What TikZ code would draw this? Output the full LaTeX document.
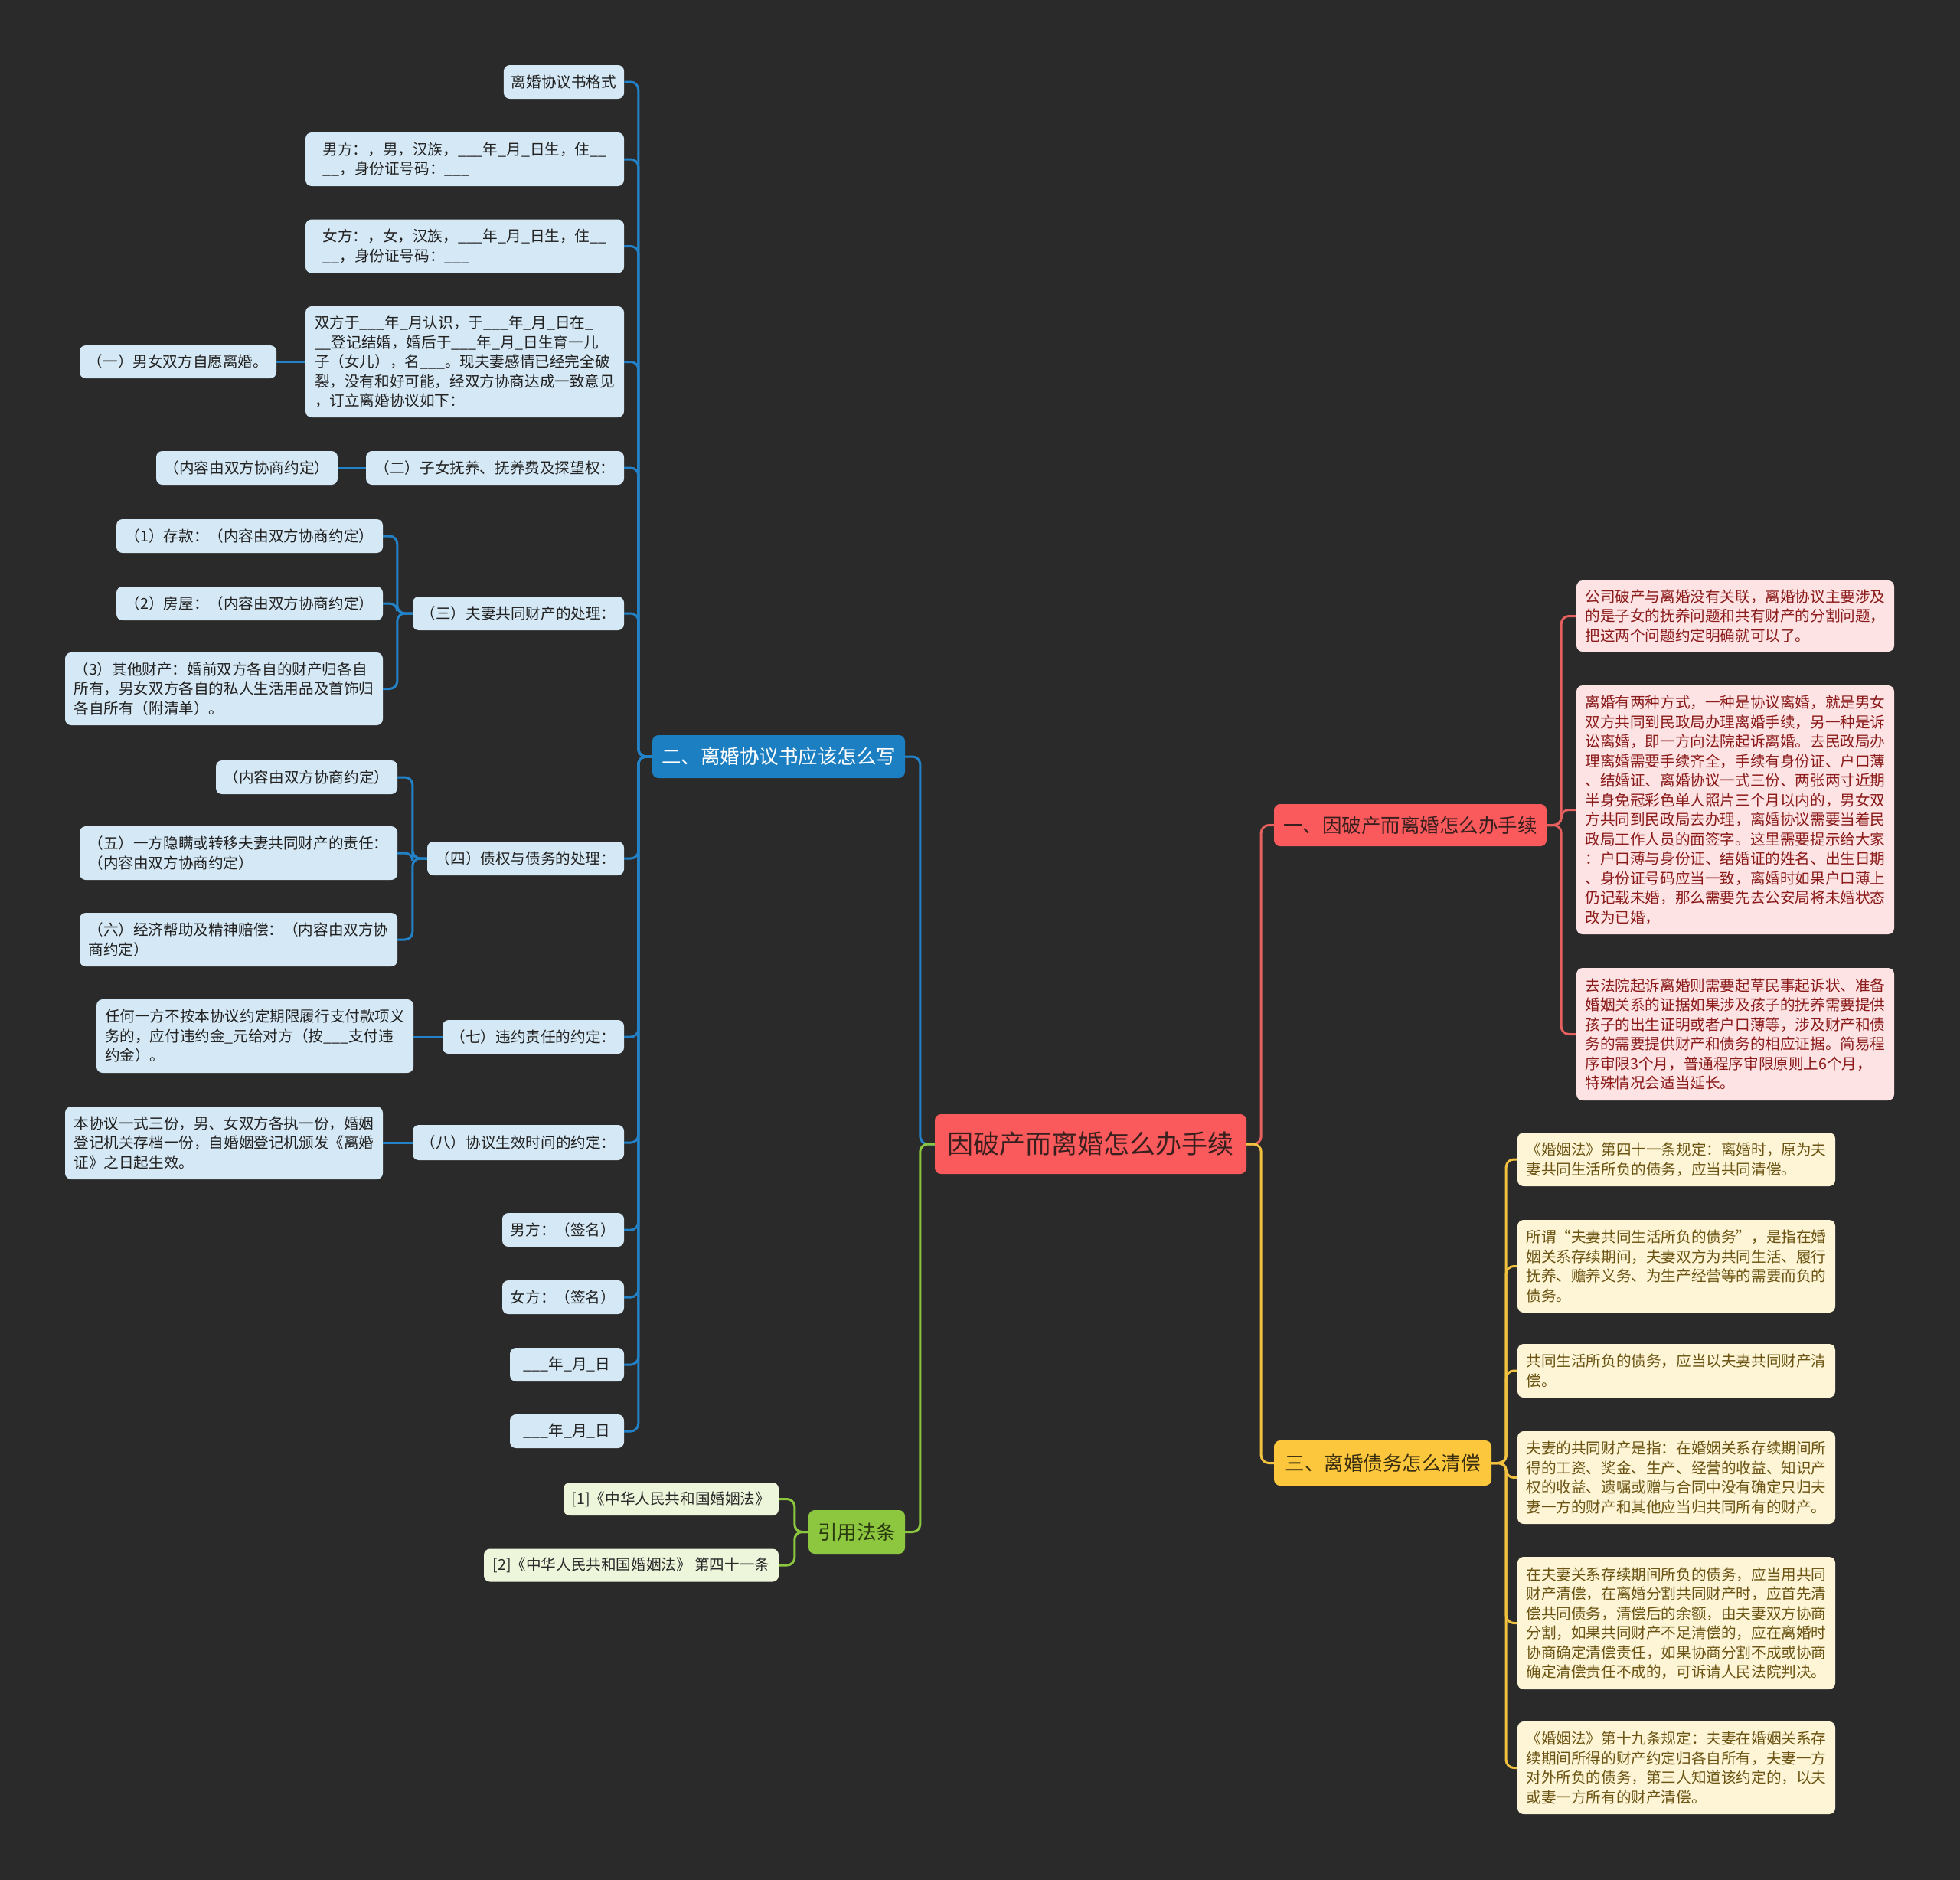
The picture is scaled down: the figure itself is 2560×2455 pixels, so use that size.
\documentclass[tikz,border=0pt]{standalone}
\usepackage{fontspec}
\setmainfont{Noto Sans CJK SC}
\definecolor{bg}{HTML}{2A2A2A}
\definecolor{blinec}{HTML}{2382C7}
\definecolor{bfillc}{HTML}{1C7FC2}
\definecolor{bleafc}{HTML}{D5E8F5}
\definecolor{bleaft}{HTML}{222222}
\definecolor{rfillc}{HTML}{FB5A5C}
\definecolor{rlinec}{HTML}{E5605F}
\definecolor{rtext}{HTML}{3A1F1F}
\definecolor{pleafc}{HTML}{FDE3E3}
\definecolor{pleaft}{HTML}{8B1A1A}
\definecolor{yfillc}{HTML}{FCC73C}
\definecolor{ylinec}{HTML}{F2C13F}
\definecolor{ytext}{HTML}{3A2E10}
\definecolor{yleafc}{HTML}{FDF5D5}
\definecolor{yleaft}{HTML}{6B5413}
\definecolor{gfillc}{HTML}{8DC63F}
\definecolor{glinec}{HTML}{8CC63F}
\definecolor{gtext}{HTML}{2A3A10}
\definecolor{gleafc}{HTML}{EDF5DB}
\definecolor{gleaft}{HTML}{2A2A2A}
\tikzset{
  sz/.style 2 args={minimum width=#1, minimum height=#2},
  base/.style={rounded corners=8, inner xsep=10, inner ysep=0, align=left,
    font=\fontsize{19.6}{25.5}\selectfont},
  bleaf/.style={base, fill=bleafc, text=bleaft},
  pleaf/.style={base, fill=pleafc, text=pleaft},
  yleaf/.style={base, fill=yleafc, text=yleaft},
  gleaf/.style={base, fill=gleafc, text=gleaft},
  branch/.style={rounded corners=8, inner xsep=8, inner ysep=0, align=center,
    font=\fontsize{25.5}{30}\selectfont},
  bline/.style={draw=blinec, line width=3, rounded corners=10},
  rline/.style={draw=rlinec, line width=3, rounded corners=10},
  yline/.style={draw=ylinec, line width=3, rounded corners=10},
  gline/.style={draw=glinec, line width=3, rounded corners=10},
}
\begin{document}
\begin{tikzpicture}[x=1pt,y=-1pt]
\fill[bg] (0,0) rectangle (2560,2455);
\useasboundingbox (0,0) rectangle (2560,2455);

% ---------- center ----------
\node[rounded corners=8, inner sep=0, fill=rfillc, text=rtext, sz={407}{78},
  font=\fontsize{34}{40}\selectfont] (c) at (1424.5,1494) {因破产而离婚怎么办手续};

% ---------- main branches ----------
\node[branch, fill=bfillc, text=white, sz={330}{56}] (b2) at (1017,988) {二、离婚协议书应该怎么写};
\node[branch, fill=gfillc, text=gtext, sz={126}{57}] (cite) at (1119,2000.5) {引用法条};
\node[branch, fill=rfillc, text=rtext, sz={356}{55}] (r1) at (1842,1077.5) {一、因破产而离婚怎么办手续};
\node[branch, fill=yfillc, text=ytext, sz={284}{59}] (y3) at (1806,1910.5) {三、离婚债务怎么清偿};

% ---------- blue leaves ----------
\node[bleaf, sz={157}{44}] (n1) at (736.5,107) {离婚协议书格式};
\node[bleaf, sz={416}{70}] (n2) at (607,208) {男方：，男，汉族，\_\_\_年\_月\_日生，住\_\_\\\_\_，身份证号码：\_\_\_};
\node[bleaf, sz={416}{70}] (n3) at (607,321.5) {女方：，女，汉族，\_\_\_年\_月\_日生，住\_\_\\\_\_，身份证号码：\_\_\_};
\node[bleaf, sz={416}{145}] (n4) at (607,472.5) {双方于\_\_\_年\_月认识，于\_\_\_年\_月\_日在\_\\\_\_登记结婚，婚后于\_\_\_年\_月\_日生育一儿\\子（女儿），名\_\_\_。现夫妻感情已经完全破\\裂，没有和好可能，经双方协商达成一致意见\\，订立离婚协议如下：};
\node[bleaf, sz={257}{43}] (n5) at (232.5,472.5) {（一）男女双方自愿离婚。};
\node[bleaf, sz={337}{44}] (s2) at (646.5,611) {（二）子女抚养、抚养费及探望权：};
\node[bleaf, sz={237}{44}] (s2a) at (322.5,611) {（内容由双方协商约定）};
\node[bleaf, sz={276}{44}] (s3) at (677,801) {（三）夫妻共同财产的处理：};
\node[bleaf, sz={348}{44}] (s3a) at (326,700) {（1）存款：（内容由双方协商约定）};
\node[bleaf, sz={348}{44}] (s3b) at (326,788) {（2）房屋：（内容由双方协商约定）};
\node[bleaf, sz={415}{95}] (s3c) at (292.5,899.5) {（3）其他财产：婚前双方各自的财产归各自\\所有，男女双方各自的私人生活用品及首饰归\\各自所有（附清单）。};
\node[bleaf, sz={257}{44}] (s4) at (686.5,1121) {（四）债权与债务的处理：};
\node[bleaf, sz={237}{44}] (s4a) at (400.5,1015) {（内容由双方协商约定）};
\node[bleaf, sz={415}{70}] (s4b) at (311.5,1114) {（五）一方隐瞒或转移夫妻共同财产的责任：\\（内容由双方协商约定）};
\node[bleaf, sz={415}{70}] (s4c) at (311.5,1227) {（六）经济帮助及精神赔偿：（内容由双方协\\商约定）};
\node[bleaf, sz={237}{44}] (s7) at (696.5,1354) {（七）违约责任的约定：};
\node[bleaf, sz={414}{96}] (s7a) at (333,1353) {任何一方不按本协议约定期限履行支付款项义\\务的，应付违约金\_元给对方（按\_\_\_支付违\\约金）。};
\node[bleaf, sz={276}{46}] (s8) at (677,1492) {（八）协议生效时间的约定：};
\node[bleaf, sz={415}{95}] (s8a) at (292.5,1492.5) {本协议一式三份，男、女双方各执一份，婚姻\\登记机关存档一份，自婚姻登记机颁发《离婚\\证》之日起生效。};
\node[bleaf, sz={159}{44}] (m1) at (735.5,1606) {男方：（签名）};
\node[bleaf, sz={159}{44}] (m2) at (735.5,1694) {女方：（签名）};
\node[bleaf, sz={149}{44}] (d1) at (740.5,1782) {\_\_\_年\_月\_日};
\node[bleaf, sz={149}{44}] (d2) at (740.5,1869) {\_\_\_年\_月\_日};

% ---------- green leaves ----------
\node[gleaf, sz={281}{43}] (g1) at (876.5,1957.5) {[1]《中华人民共和国婚姻法》};
\node[gleaf, sz={385}{43}] (g2) at (824.5,2044) {[2]《中华人民共和国婚姻法》 第四十一条};

% ---------- pink leaves ----------
\node[pleaf, sz={415}{93}] (p1) at (2266.5,804.5) {公司破产与离婚没有关联，离婚协议主要涉及\\的是子女的抚养问题和共有财产的分割问题，\\把这两个问题约定明确就可以了。};
\node[pleaf, sz={415}{325}] (p2) at (2266.5,1057.5) {离婚有两种方式，一种是协议离婚，就是男女\\双方共同到民政局办理离婚手续，另一种是诉\\讼离婚，即一方向法院起诉离婚。去民政局办\\理离婚需要手续齐全，手续有身份证、户口薄\\、结婚证、离婚协议一式三份、两张两寸近期\\半身免冠彩色单人照片三个月以内的，男女双\\方共同到民政局去办理，离婚协议需要当着民\\政局工作人员的面签字。这里需要提示给大家\\：户口薄与身份证、结婚证的姓名、出生日期\\、身份证号码应当一致，离婚时如果户口薄上\\仍记载未婚，那么需要先去公安局将未婚状态\\改为已婚，};
\node[pleaf, sz={415}{173}] (p3) at (2266.5,1350.5) {去法院起诉离婚则需要起草民事起诉状、准备\\婚姻关系的证据如果涉及孩子的抚养需要提供\\孩子的出生证明或者户口薄等，涉及财产和债\\务的需要提供财产和债务的相应证据。简易程\\序审限3个月，普通程序审限原则上6个月，\\特殊情况会适当延长。};

% ---------- cream leaves ----------
\node[yleaf, sz={415}{70}] (q1) at (2189.5,1514) {《婚姻法》第四十一条规定：离婚时，原为夫\\妻共同生活所负的债务，应当共同清偿。};
\node[yleaf, sz={415}{121}] (q2) at (2189.5,1653.5) {所谓“夫妻共同生活所负的债务”，是指在婚\\姻关系存续期间，夫妻双方为共同生活、履行\\抚养、赡养义务、为生产经营等的需要而负的\\债务。};
\node[yleaf, sz={415}{70}] (q3) at (2189.5,1790) {共同生活所负的债务，应当以夫妻共同财产清\\偿。};
\node[yleaf, sz={415}{121}] (q4) at (2189.5,1929.5) {夫妻的共同财产是指：在婚姻关系存续期间所\\得的工资、奖金、生产、经营的收益、知识产\\权的收益、遗嘱或赠与合同中没有确定只归夫\\妻一方的财产和其他应当归共同所有的财产。};
\node[yleaf, sz={415}{173}] (q5) at (2189.5,2119.5) {在夫妻关系存续期间所负的债务，应当用共同\\财产清偿，在离婚分割共同财产时，应首先清\\偿共同债务，清偿后的余额，由夫妻双方协商\\分割，如果共同财产不足清偿的，应在离婚时\\协商确定清偿责任，如果协商分割不成或协商\\确定清偿责任不成的，可诉请人民法院判决。};
\node[yleaf, sz={415}{121}] (q6) at (2189.5,2308.5) {《婚姻法》第十九条规定：夫妻在婚姻关系存\\续期间所得的财产约定归各自所有，夫妻一方\\对外所负的债务，第三人知道该约定的，以夫\\或妻一方所有的财产清偿。};

% ---------- connectors ----------
\foreach \t in {n1,n2,n3,n4,s2,s3,s4,s7,s8,m1,m2,d1,d2}
  \draw[bline] (b2.west) -- ++(-18,0) |- (\t.east);
\draw[bline] (n4.west) -- (n5.east);
\draw[bline] (s2.west) -- (s2a.east);
\foreach \t in {s3a,s3b,s3c}
  \draw[bline] (s3.west) -- ++(-20,0) |- (\t.east);
\foreach \t in {s4a,s4b,s4c}
  \draw[bline] (s4.west) -- ++(-19,0) |- (\t.east);
\draw[bline] (s7.west) -- (s7.west -| s7a.east);
\draw[bline] (s8.west) -- (s8.west -| s8a.east);
\foreach \t in {g1,g2}
  \draw[gline] (cite.west) -- ++(-18,0) |- (\t.east);
\foreach \t in {p1,p2,p3}
  \draw[rline] (r1.east) -- ++(19,0) |- (\t.west);
\foreach \t in {q1,q2,q3,q4,q5,q6}
  \draw[yline] (y3.east) -- ++(19,0) |- (\t.west);
\draw[bline] (c.west) -- ++(-19,0) |- (b2.east);
\draw[gline] (c.west) -- ++(-19,0) |- (cite.east);
\draw[rline] (c.east) -- ++(19,0) |- (r1.west);
\draw[yline] (c.east) -- ++(19,0) |- (y3.west);
\end{tikzpicture}
\end{document}
